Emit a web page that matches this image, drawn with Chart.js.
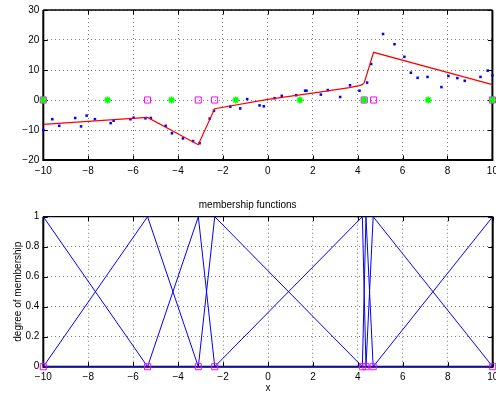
<!DOCTYPE html>
<html><head><meta charset="utf-8">
<script src="https://cdn.jsdelivr.net/npm/chart.js@4/dist/chart.umd.min.js"></script>
<style>
html,body{margin:0;padding:0;background:#fff;}
#wrap{position:relative;width:496px;height:396px;overflow:hidden;background:#fff;}
canvas{position:absolute;left:0;}
#c1{top:0;}
#c2{top:195px;}
</style></head><body>
<div id="wrap"><canvas id="c1" width="498" height="195"></canvas><canvas id="c2" width="498" height="201"></canvas></div>
<script>
// ---- data ----
const xTicks = [-10, -8, -6, -4, -2, 0, 2, 4, 6, 8, 10];
const topYTicks = [-20, -10, 0, 10, 20, 30];
const botYTicks = [0, 0.2, 0.4, 0.6, 0.8, 1];

const sampleX = [-10, -9.6, -9.29, -8.58, -8.32, -8.07, -7.7, -7.0, -6.87, -6.12, -5.98, -5.45, -5.21, -4.55, -4.27, -3.78, -3.33, -3.04, -2.59, -2.4, -1.67, -1.23, -0.92, -0.37, -0.18, 0.3, 0.62, 1.26, 1.66, 1.72, 2.36, 2.67, 3.22, 3.66, 4.08, 4.42, 4.6, 5.13, 5.64, 6.08, 6.37, 6.67, 7.11, 7.73, 8.04, 8.44, 8.77, 9.47, 9.79, 10];
const sampleY = [-10, -6.4, -8.6, -6.0, -8.8, -5.2, -6.4, -7.7, -6.9, -6.4, -5.9, -6.1, -6.0, -8.6, -11.1, -12.8, -13.7, -14.4, -6.2, -3.6, -2.2, -2.8, 0.3, -1.8, -2.1, 0.6, 1.4, 1.6, 3.1, 3.1, 1.8, 3.3, 1.0, 4.9, 3.1, 5.8, 12.0, 22.0, 18.6, 14.4, 9.1, 7.4, 7.7, 4.3, 8.0, 7.3, 6.4, 7.7, 9.8, 8.2];

const modelX = [-10, -5.36, -3.1, -2.37, 0, 2.3, 3.63, 4.07, 4.22, 4.3, 4.71, 10];
const modelY = [-8.1, -5.8, -14.9, -2.9, 0.2, 2.6, 4.1, 4.8, 5.2, 5.9, 15.9, 5.1];

const centerX = [-10, -7.14, -4.29, -1.43, 1.43, 4.29, 7.14, 10];
const ruleX = [-10, -5.36, -3.1, -2.37, 4.29, 4.71, 10];
const mfNodes = [-10, -5.36, -3.1, -2.37, 4.2, 4.36, 4.68, 10];

const bottomTitle = 'membership functions';
const bottomYLabel = 'degree of membership';
const bottomXLabel = 'x';

// ---- helpers ----
const FONT = '"Liberation Sans", Arial, Helvetica, sans-serif';
const BLUE = '#0000ff';
const fmt = v => {
  const r = Math.round(v * 10) / 10;
  let s = Number.isInteger(r) ? String(r) : r.toFixed(1);
  return s.replace('-', '\u2212');
};
const pts = (xs, ys) => xs.map((x, i) => ({x, y: ys[i]}));

const boxPlugin = {
  id: 'box',
  beforeDatasetsDraw(chart) {
    const {ctx, chartArea: a, scales} = chart;
    ctx.save();
    ctx.setLineDash([]);
    ctx.strokeStyle = '#000';
    ctx.lineWidth = 1;
    const tl = 4.5;
    ctx.beginPath();
    scales.x.ticks.forEach(t => {
      const px = Math.round(scales.x.getPixelForValue(t.value)) + 0.5;
      ctx.moveTo(px, a.bottom); ctx.lineTo(px, a.bottom - tl);
      ctx.moveTo(px, a.top); ctx.lineTo(px, a.top + tl);
    });
    scales.y.ticks.forEach(t => {
      const py = Math.round(scales.y.getPixelForValue(t.value)) + 0.5;
      ctx.moveTo(a.left, py); ctx.lineTo(a.left + tl, py);
      ctx.moveTo(a.right, py); ctx.lineTo(a.right - tl, py);
    });
    ctx.stroke();
    ctx.lineWidth = 2;
    ctx.beginPath();
    ctx.moveTo(a.left, a.top); ctx.lineTo(a.left, a.bottom); ctx.lineTo(a.right, a.bottom); ctx.lineTo(a.right, a.top);
    ctx.stroke();
    ctx.lineWidth = 1.3;
    ctx.beginPath();
    ctx.moveTo(a.left, a.top); ctx.lineTo(a.right, a.top);
    ctx.stroke();
    ctx.beginPath();
    ctx.restore();
  }
};

function xScale(h, titleOpts) {
  return {
    type: 'linear', min: -10, max: 10,
    afterBuildTicks: s => { s.ticks = xTicks.map(v => ({value: v})); },
    afterFit: s => { s.height = h; s.paddingLeft = 0; s.paddingRight = 0; },
    ticks: {callback: v => fmt(v), font: {family: FONT, size: 10}, color: '#000', padding: 5, maxRotation: 0, autoSkip: false},
    grid: {color: '#7a7a7a', lineWidth: 1, drawTicks: false},
    border: {display: false, dash: [1, 3]},
    title: titleOpts || {display: false}
  };
}
function yScale(min, max, ticks, titleOpts) {
  return {
    type: 'linear', min, max,
    afterBuildTicks: s => { s.ticks = ticks.map(v => ({value: v})); },
    afterFit: s => { s.width = 43.3; s.paddingTop = 0; s.paddingBottom = 0; },
    ticks: {callback: v => fmt(v), font: {family: FONT, size: 10}, color: '#000', padding: 4},
    grid: {color: '#7a7a7a', lineWidth: 1, drawTicks: false},
    border: {display: false, dash: [1, 3]},
    title: titleOpts || {display: false}
  };
}

// ---- top chart (canvas 0..195) ----
new Chart(document.getElementById('c1'), {
  type: 'scatter',
  data: {
    datasets: [
      {label: 'centers', data: centerX.map(x => ({x, y: 0})), pointStyle: 'star', pointRadius: 3.5, borderColor: '#00ff00', backgroundColor: '#00ff00', pointBorderWidth: 1.6, showLine: false, clip: false, order: 1},
      {label: 'rules', data: ruleX.map(x => ({x, y: 0})), pointStyle: 'rect', pointRadius: 4.3, borderColor: '#ff00ff', backgroundColor: 'rgba(0,0,0,0)', pointBorderWidth: 1, showLine: false, clip: false, order: 2},
      {label: 'model', data: pts(modelX, modelY), showLine: true, borderColor: '#ff0000', backgroundColor: '#ff0000', borderWidth: 1.2, pointRadius: 0, tension: 0, order: 3},
      {label: 'samples', data: pts(sampleX, sampleY), pointStyle: 'rect', pointRadius: 1.8, backgroundColor: BLUE, borderColor: BLUE, pointBorderWidth: 0, showLine: false, clip: false, order: 4}
    ]
  },
  options: {
    responsive: false, animation: false, devicePixelRatio: 1,
    layout: {padding: {left: 0, right: 2.7, top: 10, bottom: 0}},
    plugins: {legend: {display: false}, tooltip: {enabled: false}},
    scales: {
      x: xScale(35),
      y: yScale(-20, 30, topYTicks)
    }
  },
  plugins: [boxPlugin]
});

// ---- bottom chart (canvas 195..396) ----
const mfSets = mfNodes.map((c, i) => {
  const d = [];
  if (i > 0) { d.push({x: -10, y: 0}); d.push({x: mfNodes[i - 1], y: 0}); }
  d.push({x: c, y: 1});
  if (i < mfNodes.length - 1) { d.push({x: mfNodes[i + 1], y: 0}); d.push({x: 10, y: 0}); }
  return {label: 'mf' + i, data: d, showLine: true, borderColor: BLUE, backgroundColor: BLUE, borderWidth: 1, pointRadius: 0, tension: 0, order: 3};
});

new Chart(document.getElementById('c2'), {
  type: 'scatter',
  data: {
    datasets: mfSets.concat([
      {label: 'nodes', data: mfNodes.map(x => ({x, y: 0})), pointStyle: 'rect', pointRadius: 4.3, borderColor: '#ff00ff', backgroundColor: 'rgba(0,0,0,0)', pointBorderWidth: 1, showLine: false, clip: false, order: 1}
    ])
  },
  options: {
    responsive: false, animation: false, devicePixelRatio: 1,
    layout: {padding: {left: 0, right: 2.7, top: 0, bottom: 0}},
    plugins: {
      legend: {display: false}, tooltip: {enabled: false},
      title: {display: true, text: bottomTitle, font: {family: FONT, size: 10, weight: 'normal', lineHeight: 1.2}, color: '#000', padding: {top: 4, bottom: 5.7}}
    },
    scales: {
      x: xScale(29.3, {display: true, text: bottomXLabel, font: {family: FONT, size: 10, lineHeight: 1.2}, color: '#000', padding: {top: 0, bottom: 2}}),
      y: yScale(0, 1, botYTicks, {display: true, text: bottomYLabel, font: {family: FONT, size: 10, lineHeight: 1.2}, color: '#000', padding: {top: 12.3, bottom: 0}})
    }
  },
  plugins: [boxPlugin]
});
</script>
</body></html>
